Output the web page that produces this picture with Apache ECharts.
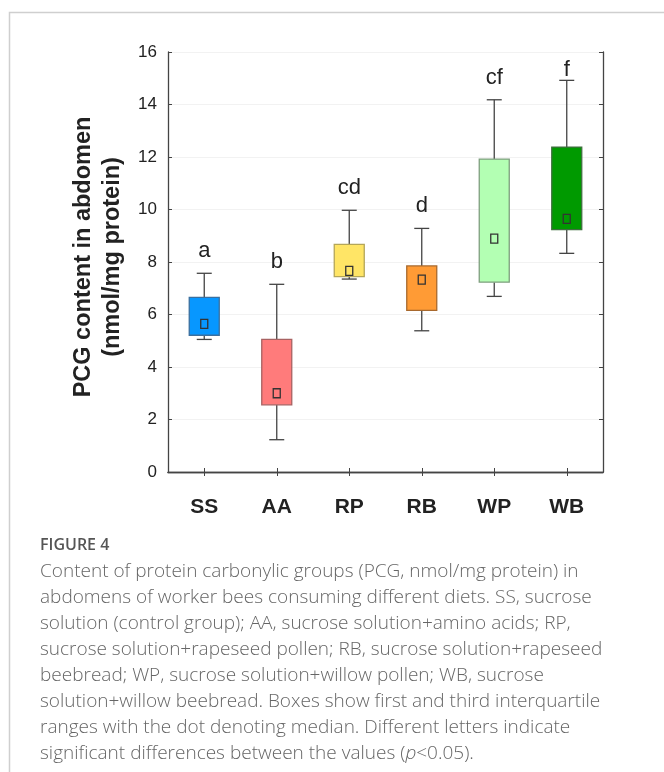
<!DOCTYPE html>
<html>
<head>
<meta charset="utf-8">
<script src="https://cdn.jsdelivr.net/npm/echarts@6/dist/echarts.min.js"></script>
<style>
  html, body { margin: 0; padding: 0; background: #fff; }
  #chart { width: 664px; height: 772px; }
</style>
</head>
<body>
<div id="chart"></div>
<script>
// Diet groups and the box statistics of PCG content (nmol/mg protein)
const categories = ['SS', 'AA', 'RP', 'RB', 'WP', 'WB'];
const whiskerLow = [5.05, 1.23, 7.35, 5.38, 6.69, 8.33];
const quartile1 = [5.21, 2.56, 7.44, 6.16, 7.23, 9.23];
const medians = [5.64, 3.00, 7.66, 7.33, 8.89, 9.64];
const quartile3 = [6.65, 5.05, 8.67, 7.85, 11.92, 12.38];
const whiskerHigh = [7.57, 7.15, 9.97, 9.28, 14.18, 14.92];
// Significance letters per group
const letters = ['a', 'b', 'cd', 'd', 'cf', 'f'];
// Value axis range and step
const yMin = 0, yMax = 16, yStep = 2;

const boxFill = ['#0797ff', '#ff7b7b', '#ffe566', '#ff9b35', '#b3ffb3', '#009a00'];
const boxEdge = ['#3b6f9e', '#a86262', '#b4a659', '#a8692e', '#7f9f7f', '#3f6f3f'];

const GRID = { left: 168, top: 52, width: 435, height: 420 };

const boxData = categories.map((c, i) =>
  [i, whiskerLow[i], quartile1[i], medians[i], quartile3[i], whiskerHigh[i]]);
const letterData = categories.map((c, i) => [i, whiskerHigh[i]]);

const chart = echarts.init(document.getElementById('chart'), null, { renderer: 'canvas' });

const caption = [
  'Content of protein carbonylic groups (PCG, nmol/mg protein) in',
  'abdomens of worker bees consuming different diets. SS, sucrose',
  'solution (control group); AA, sucrose solution+amino acids; RP,',
  'sucrose solution+rapeseed pollen; RB, sucrose solution+rapeseed',
  'beebread; WP, sucrose solution+willow pollen; WB, sucrose',
  'solution+willow beebread. Boxes show first and third interquartile',
  'ranges with the dot denoting median. Different letters indicate',
  'significant differences between the values ({i|p}<0.05).'
].join('\n');

const frameAxisLine = { show: true, lineStyle: { color: '#444', width: 1.3 } };
const innerTick = { show: true, inside: true, length: 4, lineStyle: { color: '#444', width: 1 } };
const SANS = 'Liberation Sans, Arial, sans-serif';
const CAPTION_FONT = 'Open Sans, sans-serif';

chart.setOption({
  animation: false,
  backgroundColor: '#fff',
  grid: GRID,
  xAxis: [
    {
      type: 'category', data: categories, position: 'bottom', boundaryGap: true,
      axisLine: frameAxisLine,
      axisTick: Object.assign({ alignWithLabel: true }, innerTick),
      axisLabel: { fontSize: 21, fontWeight: 'bold', color: '#222', margin: 25, fontFamily: SANS },
      splitLine: { show: false }
    },
    {
      type: 'category', data: categories, position: 'top', boundaryGap: true,
      axisLine: frameAxisLine,
      axisTick: Object.assign({ alignWithLabel: true }, innerTick),
      axisLabel: { show: false },
      splitLine: { show: false }
    }
  ],
  yAxis: [
    {
      type: 'value', min: yMin, max: yMax, interval: yStep, position: 'left',
      axisLine: frameAxisLine,
      axisTick: innerTick,
      axisLabel: { fontSize: 17, color: '#222', margin: 11, fontFamily: SANS },
      splitLine: { show: true, lineStyle: { color: '#f2f2f2', width: 1 } },
      name: 'PCG content in abdomen\n(nmol/mg protein)',
      nameLocation: 'middle', nameRotate: 90, nameGap: 36,
      nameTextStyle: {
        fontSize: 23.5, fontWeight: 'bold', color: '#222', lineHeight: 29, fontFamily: SANS,
        padding: [0, 0, 0, 10]
      }
    },
    {
      type: 'value', min: yMin, max: yMax, interval: yStep, position: 'right',
      axisLine: frameAxisLine,
      axisTick: innerTick,
      axisLabel: { show: false },
      splitLine: { show: false }
    }
  ],
  series: [
    {
      type: 'custom',
      xAxisIndex: 0, yAxisIndex: 0,
      data: boxData,
      encode: { x: 0, y: [1, 2, 3, 4, 5] },
      renderItem: function (params, api) {
        const i = api.value(0);
        const x = api.coord([i, 0])[0];
        const yLo = api.coord([i, api.value(1)])[1];
        const yQ1 = api.coord([i, api.value(2)])[1];
        const yMed = api.coord([i, api.value(3)])[1];
        const yQ3 = api.coord([i, api.value(4)])[1];
        const yHi = api.coord([i, api.value(5)])[1];
        const half = 15, cap = 7.5;
        const wStyle = { stroke: '#444', lineWidth: 1.3 };
        return {
          type: 'group',
          children: [
            { type: 'line', shape: { x1: x, y1: yHi, x2: x, y2: yQ3 }, style: wStyle },
            { type: 'line', shape: { x1: x, y1: yQ1, x2: x, y2: yLo }, style: wStyle },
            { type: 'line', shape: { x1: x - cap, y1: yHi, x2: x + cap, y2: yHi }, style: wStyle },
            { type: 'line', shape: { x1: x - cap, y1: yLo, x2: x + cap, y2: yLo }, style: wStyle },
            {
              type: 'rect',
              shape: { x: x - half, y: yQ3, width: half * 2, height: yQ1 - yQ3 },
              style: { fill: boxFill[i], stroke: boxEdge[i], lineWidth: 1.3 }
            },
            {
              type: 'rect',
              shape: { x: x - 3.5, y: yMed - 4.5, width: 7, height: 9 },
              style: { fill: 'none', stroke: '#333', lineWidth: 1.3 }
            }
          ]
        };
      },
      z: 5
    },
    {
      type: 'custom',
      xAxisIndex: 0, yAxisIndex: 0,
      data: letterData,
      encode: { x: 0, y: 1 },
      renderItem: function (params, api) {
        const i = api.value(0);
        const p = api.coord([i, api.value(1)]);
        // keep the letter inside the frame when the whisker nearly reaches the top
        const bottom = Math.max(p[1] - 11, GRID.top + 29);
        return {
          type: 'text',
          style: {
            text: letters[i], x: p[0], y: bottom,
            align: 'center', verticalAlign: 'bottom',
            fontSize: 22, fontFamily: SANS, fill: '#222'
          }
        };
      },
      z: 6
    }
  ],
  graphic: [
    {
      type: 'rect', left: 7, top: 10,
      shape: { x: 0, y: 0, width: 720, height: 800 },
      style: { fill: 'none', stroke: '#cfcfcf', lineWidth: 1.5 },
      silent: true
    },
    {
      type: 'text', left: 40, top: 537,
      style: { text: 'FIGURE 4', fontSize: 16, fontWeight: 600, fontFamily: CAPTION_FONT, fill: '#555' }
    },
    {
      type: 'text', left: 40, top: 559,
      style: {
        text: caption,
        fontSize: 19, fontWeight: 300, fontFamily: CAPTION_FONT,
        lineHeight: 25.9, fill: '#666',
        rich: {
          i: { fontStyle: 'italic', fontSize: 19, fontWeight: 300, fontFamily: CAPTION_FONT, lineHeight: 25.9, fill: '#666' }
        }
      }
    }
  ]
});
</script>
</body>
</html>
